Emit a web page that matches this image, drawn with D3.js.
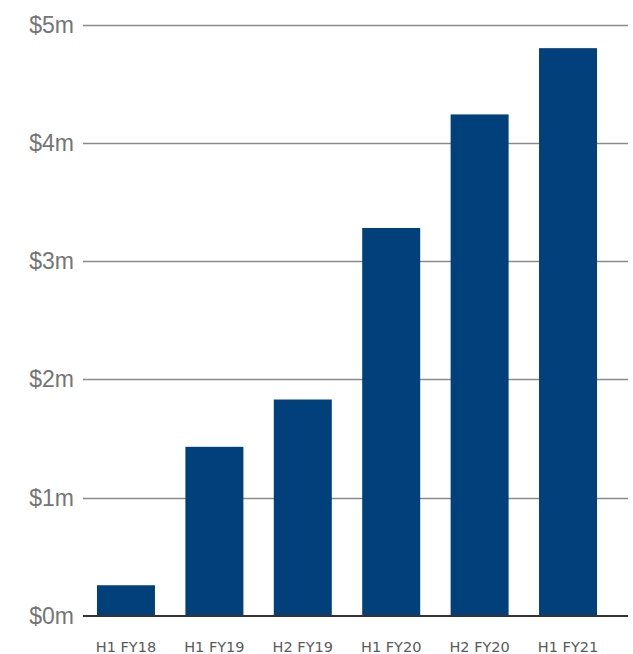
<!DOCTYPE html>
<html>
<head>
<meta charset="utf-8">
<script src="https://cdn.jsdelivr.net/npm/d3@7"></script>
<style>
  html, body { margin: 0; padding: 0; background: #fff; }
  svg { display: block; }
</style>
</head>
<body>
<svg id="chart" width="633" height="654"></svg>
<script>
const categories = ["H1 FY18", "H1 FY19", "H2 FY19", "H1 FY20", "H2 FY20", "H1 FY21"];
const values = [0.26, 1.43, 1.83, 3.28, 4.24, 4.80];
const yTicks = [0, 1, 2, 3, 4, 5];
const yTickLabels = ["$0m", "$1m", "$2m", "$3m", "$4m", "$5m"];

const svg = d3.select("#chart");
const left = 83, right = 628, plotRight = 611;
const y = d3.scaleLinear().domain([0, 5]).range([616, 24.5]);
const x = d3.scaleBand().domain(categories).range([left, plotRight])
  .paddingInner(0.344).paddingOuter(0.158);

// gridlines
svg.append("g").selectAll("line").data(yTicks.filter(d => d > 0)).join("line")
  .attr("x1", left).attr("x2", right)
  .attr("y1", d => Math.round(y(d)) + 0.5).attr("y2", d => Math.round(y(d)) + 0.5)
  .attr("stroke", "#8a8a8a").attr("stroke-width", 1.3);

// y labels
svg.append("g").selectAll("text").data(yTicks).join("text")
  .attr("x", 74).attr("y", d => y(d))
  .attr("dy", "0.35em")
  .attr("text-anchor", "end")
  .attr("font-family", "'Liberation Sans', Arial, sans-serif")
  .attr("font-size", 23)
  .attr("fill", "#757575")
  .text((d, i) => yTickLabels[i]);

// bars
svg.append("g").selectAll("rect").data(values).join("rect")
  .attr("x", (d, i) => x(categories[i]))
  .attr("width", x.bandwidth())
  .attr("y", d => y(d))
  .attr("height", d => y(0) - y(d))
  .attr("fill", "#02407c");

// baseline
svg.append("line")
  .attr("x1", left).attr("x2", right)
  .attr("y1", y(0)).attr("y2", y(0))
  .attr("stroke", "#333").attr("stroke-width", 2);

// x labels
svg.append("g").selectAll("text").data(categories).join("text")
  .attr("x", d => x(d) + x.bandwidth() / 2)
  .attr("y", 652)
  .attr("text-anchor", "middle")
  .attr("font-family", "'DejaVu Sans', sans-serif")
  .attr("font-size", 14.5)
  .attr("fill", "#5a5a5a")
  .text(d => d);
</script>
</body>
</html>
